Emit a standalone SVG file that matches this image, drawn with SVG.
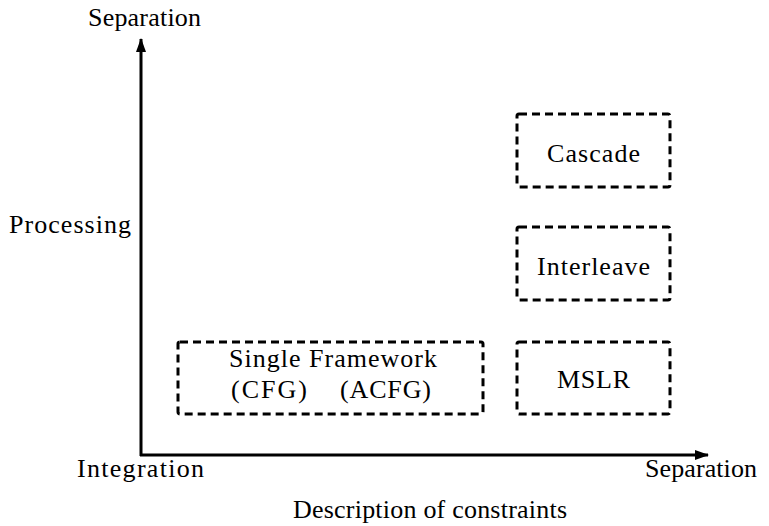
<svg xmlns="http://www.w3.org/2000/svg" width="769" height="526" viewBox="0 0 769 526">
<style>
text{font-family:"Liberation Serif","DejaVu Serif",serif;font-size:26px;fill:#000}
.box{fill:none;stroke:#000;stroke-width:3;stroke-dasharray:8 5;stroke-linejoin:round}
.axis{stroke:#000;stroke-width:3;fill:none}
</style>
<defs>
<marker id="ah" viewBox="0 0 14 10" refX="13" refY="5" markerWidth="14" markerHeight="10" markerUnits="userSpaceOnUse" orient="auto">
<path d="M0,0 L14,5 L0,10 Z" fill="#000"/>
</marker>
</defs>
<rect width="769" height="526" fill="#fff"/>
<g id="connectors">
<path class="axis" d="M141,456 L141,39" marker-end="url(#ah)"/>
<path class="axis" d="M140,455 L708,455" marker-end="url(#ah)"/>
</g>
<g id="labels">
<text x="88" y="26" textLength="113">Separation</text>
<text x="9" y="233" textLength="122">Processing</text>
<text x="77" y="477" textLength="127">Integration</text>
<text x="645" y="477" textLength="112">Separation</text>
<text x="293" y="518" textLength="274">Description of constraints</text>
</g>
<g id="single">
<rect class="box" x="178" y="342" width="305" height="72" rx="2"/>
<text x="229" y="367" textLength="208">Single Framework</text>
<text x="231" y="398" textLength="76">(CFG)</text>
<text x="340" y="398" textLength="91">(ACFG)</text>
</g>
<g id="mslr">
<rect class="box" x="517" y="342" width="153" height="72" rx="2"/>
<text x="557" y="388" textLength="73">MSLR</text>
</g>
<g id="interleave">
<rect class="box" x="517" y="227" width="153" height="73" rx="2"/>
<text x="537" y="275" textLength="113">Interleave</text>
</g>
<g id="cascade">
<rect class="box" x="517" y="114" width="153" height="73" rx="2"/>
<text x="547" y="162" textLength="93">Cascade</text>
</g>
</svg>
